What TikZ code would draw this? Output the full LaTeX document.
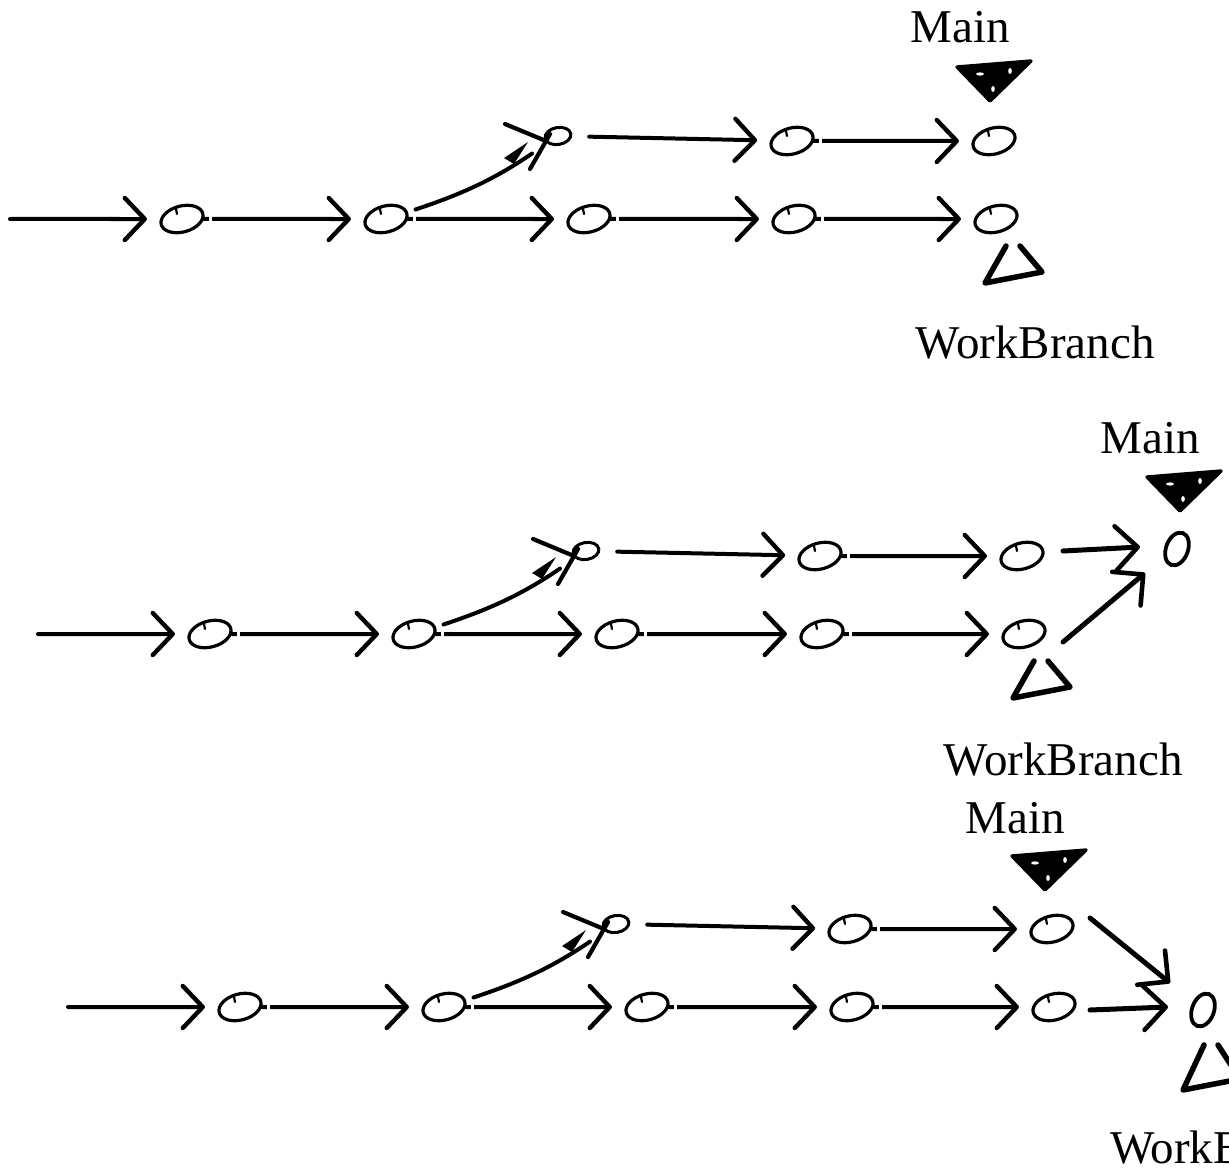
\documentclass[tikz,border=0pt]{standalone}
\usepackage{fontspec}
\setmainfont{Liberation Serif}
\usetikzlibrary{arrows.meta,shapes.geometric,calc}
\newcommand\gitchain[1]{%
  \coordinate (#1s) at (10,219);
  \node[commit] (#1a1) at (182,219) {};
  \node[commit] (#1a2) at (386,219) {};
  \node[commit] (#1a3) at (589,219) {};
  \node[commit] (#1a4) at (794,219) {};
  \node[commit] (#1a5) at (996,219) {};
  \node[branchcommit] (#1b1) at (558,136) {};
  \node[commit] (#1b2) at (792,141) {};
  \node[commit] (#1b3) at (994,141) {};
  \draw[link] (#1s) -- (#1a1);
  \draw[link] (#1a1) -- (#1a2);
  \draw[link] (#1a2) -- (#1a3);
  \draw[link] (#1a3) -- (#1a4);
  \draw[link] (#1a4) -- (#1a5);
  \draw[link,shorten <=17pt] (#1b1) -- (#1b2);
  \draw[link] (#1b2) -- (#1b3);
  \draw[shaft,shorten <=8pt,shorten >=18pt] (#1a2) to[bend right=8] (#1b1);
  \fill ($(#1b1)+(-54,22)$) -- ($(#1b1)+(-30,6)$) -- ($(#1b1)+(-44,28)$) -- cycle;
  \draw[arm] ($(#1b1)+(-53,-12)$) -- ($(#1b1)+(-12,5)$);
  \draw[arm] ($(#1b1)+(-28,33)$) -- ($(#1b1)+(-8,-2)$);
  \foreach \n in {a1,a2,a3,a4,b2}
    \fill[white] ([shift={(27,-6)}]#1\n.center) rectangle ++(3,12);
  \foreach \n in {a1,a2,a3,a4,a5,b2,b3}
    \draw[line width=2.2pt,line cap=round] ([shift={(-6,-10)}]#1\n.center) -- ++(1,5);
}
\newcommand\headmark[2]{% apex x, apex y
  \fill (#1-33,#2-34) -- (#1+40,#2-39) -- (#1,#2) -- cycle;
  \draw[line width=3.4pt,line cap=round,line join=round] (#1-33,#2-34) -- (#1+41,#2-40) -- (#1,#2) -- cycle;
  \fill[white] (#1-10,#2-27) ellipse (4 and 1.6);
  \fill[white] (#1+20,#2-30) ellipse (1.8 and 3);
  \fill[white] (#1+3,#2-12) ellipse (1.8 and 3);
}
\begin{document}
\begin{tikzpicture}[x=1pt,y=-1pt,
  commit/.style={ellipse,draw,line width=3.2pt,minimum width=43pt,minimum height=26pt,inner sep=0pt,rotate=15},
  branchcommit/.style={ellipse,draw,line width=3pt,minimum width=26pt,minimum height=17pt,inner sep=0pt,rotate=10},
  mergecommit/.style={ellipse,draw,line width=3.8pt,minimum width=22pt,minimum height=34pt,inner sep=0pt,rotate=-20},
  link/.style={line width=4pt,line cap=round,-{Straight Barb[length=20pt,width=42pt,line width=4.4pt,round]},shorten >=13pt},
  mlink/.style={line width=5pt,line cap=round,-{Straight Barb[length=22pt,width=44pt,line width=4.6pt,round]}},
  shaft/.style={line width=4pt,line cap=round},
  arm/.style={line width=4.2pt,line cap=round},
  tag/.style={line width=5.5pt,line join=round,line cap=round},
  lbl/.style={font=\fontsize{47}{56}\selectfont,inner sep=0pt},
]
\clip (0,0) rectangle (1229,1169);
\fill[white] (0,0) rectangle (1229,1169);

% ---------- panel 1 ----------
\gitchain{p}
\node[lbl,anchor=base] (pmain) at (960,43) {Main};
\headmark{990}{101}
\draw[tag] (1006,246) -- (985,283) -- (1042,272) -- (1020,246);
\node[lbl,anchor=base] (pwb) at (1035,358) {WorkBranch};

% ---------- panel 2 ----------
\begin{scope}[shift={(28,415)}]
\gitchain{q}
\node[mergecommit] (qm) at (1149,134) {};
\draw[mlink] ([shift={(41,-5)}]qb3.center) -- ([shift={(-37,-2)}]qm.center);
\draw[mlink] ([shift={(39,8)}]qa5.center) -- ([shift={(-32,24)}]qm.center);
\node[lbl,anchor=base] (qmain) at (1122,38) {Main};
\headmark{1152}{96}
\draw[tag] (1006,246) -- (985,283) -- (1042,272) -- (1020,246);
\node[lbl,anchor=base] (qwb) at (1035,360) {WorkBranch};
\end{scope}

% ---------- panel 3 ----------
\begin{scope}[shift={(58,788)}]
\gitchain{r}
\node[mergecommit] (rm) at (1145,222) {};
\draw[mlink] ([shift={(38,-11)}]rb3.center) -- ([shift={(-33,-27)}]rm.center);
\draw[mlink] ([shift={(36,3)}]ra5.center) -- ([shift={(-35,-3)}]rm.center);
\node[lbl,anchor=base] (rmain) at (957,45) {Main};
\headmark{987}{102}
\draw[tag] (1146,257) -- (1125,302) -- (1182,291) -- (1160,257);
\node[lbl,anchor=base west] (rwb) at (1052,375) {WorkBranch};
\end{scope}
\end{tikzpicture}
\end{document}
